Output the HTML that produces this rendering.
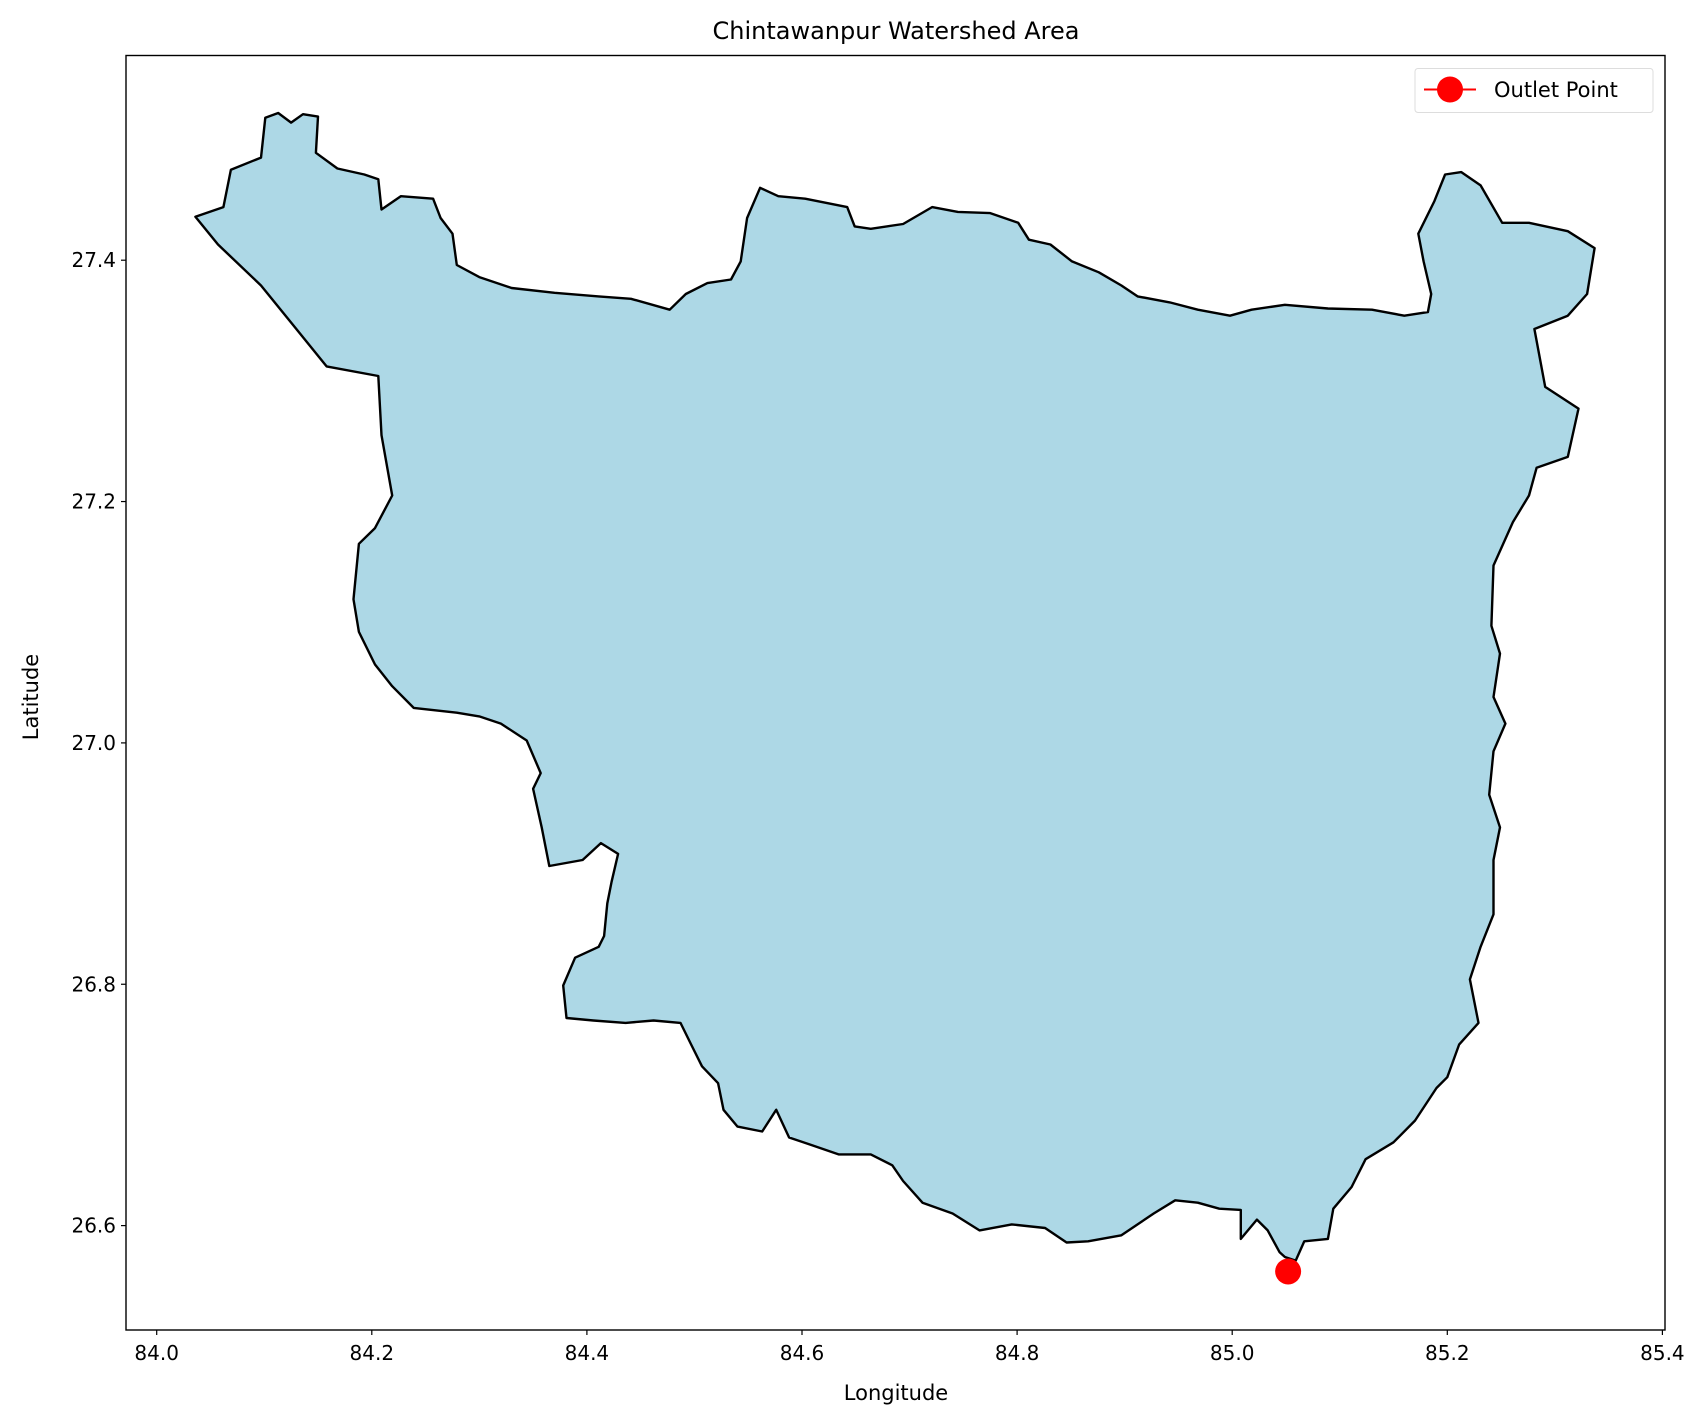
<!DOCTYPE html>
<html><head><meta charset="utf-8"><style>
body{margin:0;background:#fff}
svg{display:block;font-family:"DejaVu Sans","Liberation Sans",sans-serif}
</style></head><body>
<svg id="chart" width="1698" height="1417" viewBox="0 0 1698 1417">
<rect width="1698" height="1417" fill="#fff"/>
<text x="896" y="39" text-anchor="middle" font-size="24">Chintawanpur Watershed Area</text>
<g id="plot"></g>
<text x="896" y="1400" text-anchor="middle" font-size="21">Longitude</text>
<text transform="translate(38,697) rotate(-90)" text-anchor="middle" font-size="21">Latitude</text>
<g>
<rect x="1415" y="68.5" width="238" height="44" rx="3" fill="#fff" stroke="#ddd"/>
<line x1="1424" y1="89.5" x2="1476" y2="89.5" stroke="red" stroke-width="2"/>
<circle cx="1450" cy="89.5" r="13" fill="red"/>
<text x="1494" y="97" font-size="21">Outlet Point</text>
</g>
</svg>
<script>
const lons=[84.036,84.062,84.069,84.097,84.101,84.113,84.125,84.136,84.150,84.148,84.168,84.193,84.206,84.209,84.227,84.257,84.264,84.275,84.279,84.300,84.330,84.370,84.411,84.441,84.477,84.492,84.512,84.534,84.543,84.549,84.561,84.578,84.603,84.642,84.649,84.664,84.694,84.721,84.745,84.775,84.801,84.811,84.831,84.851,84.876,84.897,84.912,84.942,84.968,84.998,85.018,85.049,85.089,85.130,85.160,85.182,85.185,85.178,85.173,85.188,85.198,85.213,85.231,85.251,85.276,85.312,85.337,85.330,85.312,85.281,85.291,85.322,85.312,85.283,85.276,85.261,85.243,85.241,85.249,85.243,85.254,85.243,85.239,85.249,85.243,85.243,85.231,85.221,85.229,85.211,85.200,85.190,85.170,85.150,85.124,85.111,85.094,85.089,85.067,85.059,85.049,85.044,85.033,85.023,85.008,85.008,84.988,84.968,84.947,84.927,84.897,84.866,84.846,84.826,84.795,84.765,84.740,84.712,84.694,84.684,84.664,84.634,84.608,84.588,84.576,84.563,84.540,84.527,84.522,84.507,84.497,84.487,84.462,84.436,84.406,84.381,84.378,84.389,84.411,84.416,84.419,84.423,84.429,84.413,84.396,84.365,84.358,84.350,84.357,84.344,84.320,84.300,84.279,84.239,84.219,84.203,84.188,84.183,84.188,84.203,84.219,84.209,84.206,84.158,84.128,84.097,84.057];
const lats=[27.436,27.444,27.475,27.485,27.518,27.522,27.514,27.521,27.519,27.489,27.476,27.471,27.467,27.442,27.453,27.451,27.435,27.422,27.396,27.386,27.377,27.373,27.370,27.368,27.359,27.372,27.381,27.384,27.399,27.435,27.460,27.453,27.451,27.444,27.428,27.426,27.430,27.444,27.440,27.439,27.431,27.417,27.413,27.399,27.390,27.379,27.370,27.365,27.359,27.354,27.359,27.363,27.360,27.359,27.354,27.357,27.372,27.399,27.422,27.449,27.471,27.473,27.462,27.431,27.431,27.424,27.410,27.372,27.354,27.343,27.295,27.277,27.237,27.228,27.205,27.183,27.147,27.097,27.074,27.038,27.016,26.993,26.957,26.930,26.903,26.858,26.831,26.804,26.768,26.750,26.723,26.714,26.687,26.669,26.655,26.632,26.614,26.589,26.587,26.571,26.574,26.578,26.596,26.605,26.589,26.613,26.614,26.619,26.621,26.610,26.592,26.587,26.586,26.598,26.601,26.596,26.610,26.619,26.637,26.650,26.659,26.659,26.667,26.673,26.696,26.678,26.682,26.696,26.718,26.732,26.750,26.768,26.770,26.768,26.770,26.772,26.799,26.822,26.831,26.840,26.867,26.885,26.908,26.917,26.903,26.898,26.930,26.962,26.975,27.002,27.016,27.022,27.025,27.029,27.047,27.065,27.092,27.119,27.165,27.178,27.205,27.255,27.304,27.312,27.345,27.379,27.413];
const outletLon=[85.052];
const outletLat=[26.562];
const xTicks=["84.0","84.2","84.4","84.6","84.8","85.0","85.2","85.4"];
const yTicks=["26.6","26.8","27.0","27.2","27.4"];
const NS='http://www.w3.org/2000/svg';
const L=126,R=1665,T=55.5,B=1330;
const X=v=>156.7+(v-84)*1075.5;
const Y=v=>260.2+(27.4-v)*1206.75;
const g=document.getElementById('plot');
function mk(t,a){const e=document.createElementNS(NS,t);for(const k in a)e.setAttribute(k,a[k]);g.appendChild(e);return e;}
let d=lons.map((v,i)=>(i?'L':'M')+X(v).toFixed(1)+','+Y(lats[i]).toFixed(1)).join('')+'Z';
const poly=mk('path',{d:d,fill:'#add8e6',stroke:'#000','stroke-width':2.4,'stroke-linejoin':'round'});


outletLon.forEach((v,i)=>{
 const c=mk('circle',{cx:X(v),cy:Y(outletLat[i]),r:13,fill:'red'});
 
 
});
const fr=mk('rect',{x:L,y:T,width:R-L,height:B-T,fill:'none',stroke:'#000','stroke-width':1.4});


xTicks.forEach(s=>{
 const x=X(parseFloat(s));
 const t=mk('line',{x1:x,y1:B,x2:x,y2:B+5,stroke:'#000','stroke-width':1.2});
 
 
 const l=mk('text',{x:x,y:B+30,'text-anchor':'middle','font-size':20});
 l.textContent=s;
 
 
});
yTicks.forEach(s=>{
 const y=Y(parseFloat(s));
 const t=mk('line',{x1:L-5,y1:y,x2:L,y2:y,stroke:'#000','stroke-width':1.2});
 
 
 const l=mk('text',{x:L-10,y:y+7,'text-anchor':'end','font-size':20});
 l.textContent=s;
 
 
});
</script>
</body></html>
